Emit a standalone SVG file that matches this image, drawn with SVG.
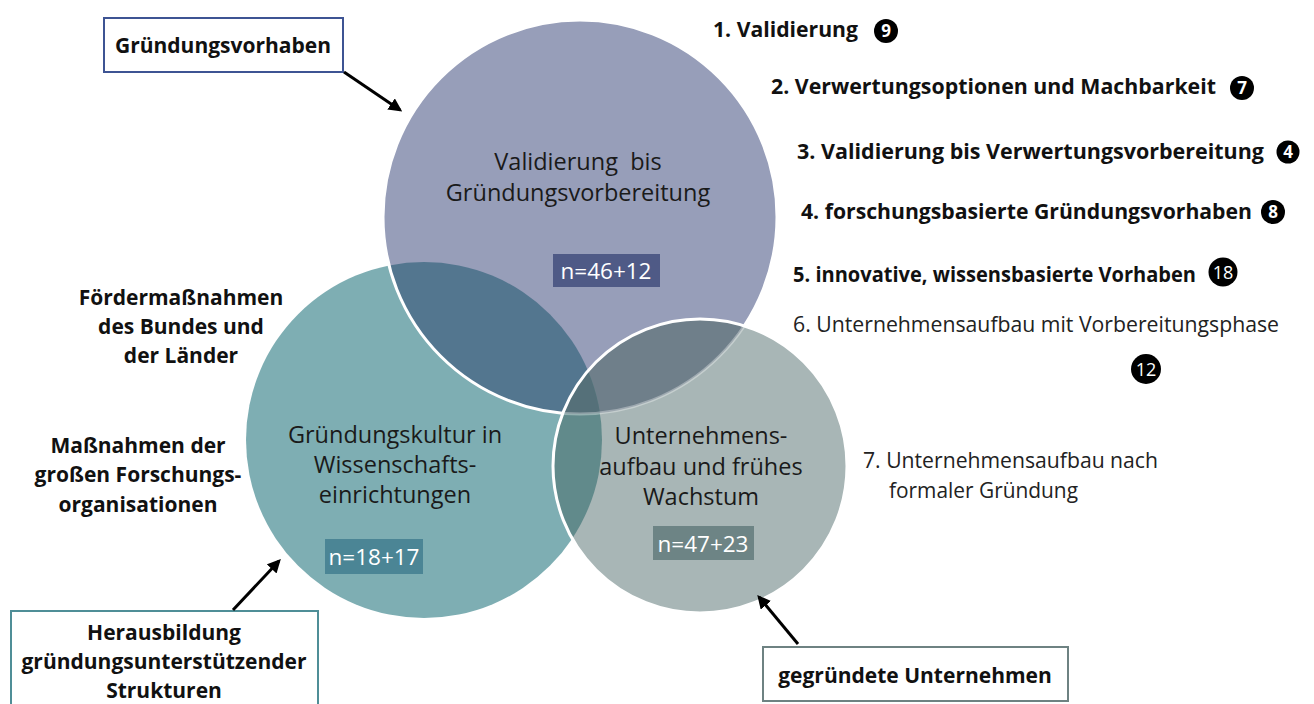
<svg xmlns="http://www.w3.org/2000/svg" width="1314" height="704" viewBox="0 0 1314 704">
  <defs>
    <style>
      .lbl { font-family: "Open Sans", "Liberation Sans", sans-serif; font-weight: bold; font-size: 21px; fill: #111; }
      .list { font-family: "Open Sans", "Liberation Sans", sans-serif; font-weight: bold; font-size: 21px; fill: #111; }
      .plain { font-family: "Open Sans", "Liberation Sans", sans-serif; font-size: 21.3px; fill: #222; }
      .circ { font-family: "Open Sans", "Liberation Sans", sans-serif; font-size: 23.5px; fill: #1a1a1a; text-anchor: middle; }
      .num { font-family: "Open Sans", "Liberation Sans", sans-serif; font-size: 22.5px; fill: #fff; text-anchor: middle; }
      .badge { fill: #000; }
      .badgeTxt { font-family: "Open Sans", "Liberation Sans", sans-serif; font-weight: bold; font-size: 17px; fill: #fff; text-anchor: middle; }
      .badgeTxt2 { font-family: "Open Sans", "Liberation Sans", sans-serif; font-size: 18px; fill: #fff; text-anchor: middle; }
      .conn { stroke: #000; stroke-width: 3; fill: none; marker-end: url(#arrow); }
    </style>
    <marker id="arrow" viewBox="0 0 10 10" refX="8" refY="5" markerWidth="4.5" markerHeight="4.5" orient="auto-start-reverse">
      <path d="M0,0 L10,5 L0,10 z" fill="#000"/>
    </marker>
    <clipPath id="cTop"><circle cx="580" cy="217" r="197"/></clipPath>
    <clipPath id="cLeft"><circle cx="424" cy="440" r="178"/></clipPath>
    <clipPath id="cRight"><circle cx="700" cy="466" r="147"/></clipPath>
    <mask id="outRight">
      <rect x="0" y="0" width="1314" height="704" fill="#fff"/>
      <circle cx="700" cy="466" r="147" fill="#555"/>
    </mask>
  </defs>

  <!-- Venn circles -->
  <g id="venn">
    <circle cx="424" cy="440" r="178" fill="#7eaeb3"/>
    <circle cx="580" cy="217" r="197" fill="#979eb9"/>
    <circle cx="700" cy="466" r="147" fill="#a8b6b6"/>
    <!-- pairwise overlaps -->
    <g clip-path="url(#cTop)">
      <circle cx="424" cy="440" r="178" fill="#53768f"/>
    </g>
    <g clip-path="url(#cTop)">
      <circle cx="700" cy="466" r="147" fill="#6f7f8a"/>
    </g>
    <g clip-path="url(#cLeft)">
      <circle cx="700" cy="466" r="147" fill="#618a8b"/>
    </g>
    <!-- triple overlap -->
    <g clip-path="url(#cTop)">
      <g clip-path="url(#cLeft)">
        <circle cx="700" cy="466" r="147" fill="#557079"/>
      </g>
    </g>
    <!-- outlines -->
    <circle cx="580" cy="217" r="197" fill="none" stroke="#fff" stroke-width="3" mask="url(#outRight)"/>
    <circle cx="700" cy="466" r="147" fill="none" stroke="#fff" stroke-width="3"/>
  </g>

  <g id="circle-top">
    <text class="circ" x="578" y="170">Validierung&#160; bis</text>
    <text class="circ" x="578" y="201">Gründungsvorbereitung</text>
    <rect x="553" y="254" width="107" height="33" fill="#4f5a86"/>
    <text class="num" x="606" y="279">n=46+12</text>
  </g>

  <g id="circle-left">
    <text class="circ" x="395" y="443">Gründungskultur in</text>
    <text class="circ" x="395" y="473">Wissenschafts-</text>
    <text class="circ" x="395" y="503">einrichtungen</text>
    <rect x="325" y="539" width="98" height="35" fill="#4b8595"/>
    <text class="num" x="374" y="565">n=18+17</text>
  </g>

  <g id="circle-right">
    <text class="circ" x="701" y="444">Unternehmens-</text>
    <text class="circ" x="701" y="475">aufbau und frühes</text>
    <text class="circ" x="701" y="505">Wachstum</text>
    <rect x="653" y="526" width="101" height="34" fill="#6d8485"/>
    <text class="num" x="703" y="552">n=47+23</text>
  </g>

  <!-- Side labels -->
  <g id="label-foerder" text-anchor="middle">
    <text class="lbl" x="181" y="305">Fördermaßnahmen</text>
    <text class="lbl" x="181" y="334">des Bundes und</text>
    <text class="lbl" x="181" y="363">der Länder</text>
  </g>
  <g id="label-massnahmen" text-anchor="middle">
    <text class="lbl" x="138" y="453">Maßnahmen der</text>
    <text class="lbl" x="138" y="482">großen Forschungs-</text>
    <text class="lbl" x="138" y="512">organisationen</text>
  </g>

  <!-- Boxes -->
  <g id="box-gruendungsvorhaben">
    <rect x="104" y="18" width="239" height="54" fill="#fff" stroke="#3e5493" stroke-width="2"/>
    <text class="lbl" x="223" y="53" text-anchor="middle">Gründungsvorhaben</text>
  </g>
  <g id="box-strukturen">
    <rect x="11" y="611" width="307" height="100" fill="#fff" stroke="#4f8e97" stroke-width="2"/>
    <text class="lbl" x="164" y="640" text-anchor="middle">Herausbildung</text>
    <text class="lbl" x="164" y="669" text-anchor="middle">gründungsunterstützender</text>
    <text class="lbl" x="164" y="698" text-anchor="middle">Strukturen</text>
  </g>
  <g id="box-unternehmen">
    <rect x="763" y="647" width="305" height="54" fill="#fff" stroke="#6e8282" stroke-width="2"/>
    <text class="lbl" x="915" y="683" text-anchor="middle">gegründete Unternehmen</text>
  </g>

  <!-- Connectors -->
  <g id="connectors">
    <line class="conn" x1="344" y1="72" x2="400" y2="110"/>
    <line class="conn" x1="233" y1="610" x2="279" y2="561"/>
    <line class="conn" x1="798" y1="644" x2="759" y2="597"/>
  </g>

  <!-- Category list -->
  <g id="list">
    <text class="list" x="713" y="37" textLength="145" lengthAdjust="spacingAndGlyphs">1. Validierung</text>
    <circle class="badge" cx="886" cy="31" r="12"/>
    <text class="badgeTxt" x="886" y="37">9</text>

    <text class="list" x="771" y="94" textLength="445" lengthAdjust="spacingAndGlyphs">2. Verwertungsoptionen und Machbarkeit</text>
    <circle class="badge" cx="1242" cy="88" r="12"/>
    <text class="badgeTxt" x="1242" y="94">7</text>

    <text class="list" x="797" y="159" textLength="467" lengthAdjust="spacingAndGlyphs">3. Validierung bis Verwertungsvorbereitung</text>
    <circle class="badge" cx="1288" cy="152" r="11.5"/>
    <text class="badgeTxt" x="1288" y="158">4</text>

    <text class="list" x="801" y="219" textLength="451" lengthAdjust="spacingAndGlyphs">4. forschungsbasierte Gründungsvorhaben</text>
    <circle class="badge" cx="1273" cy="212" r="12"/>
    <text class="badgeTxt" x="1273" y="218">8</text>

    <text class="list" x="793" y="282" textLength="403" lengthAdjust="spacingAndGlyphs">5. innovative, wissensbasierte Vorhaben</text>
    <circle class="badge" cx="1223" cy="272" r="14.5"/>
    <text class="badgeTxt2" x="1223" y="278.5">18</text>

    <text class="plain" x="793" y="332" textLength="486" lengthAdjust="spacingAndGlyphs">6. Unternehmensaufbau mit Vorbereitungsphase</text>
    <circle class="badge" cx="1146" cy="369" r="15"/>
    <text class="badgeTxt2" x="1146" y="375.5">12</text>

    <text class="plain" x="863" y="468" textLength="295" lengthAdjust="spacingAndGlyphs">7. Unternehmensaufbau nach</text>
    <text class="plain" x="889" y="498" textLength="189" lengthAdjust="spacingAndGlyphs">formaler Gründung</text>
  </g>
</svg>
